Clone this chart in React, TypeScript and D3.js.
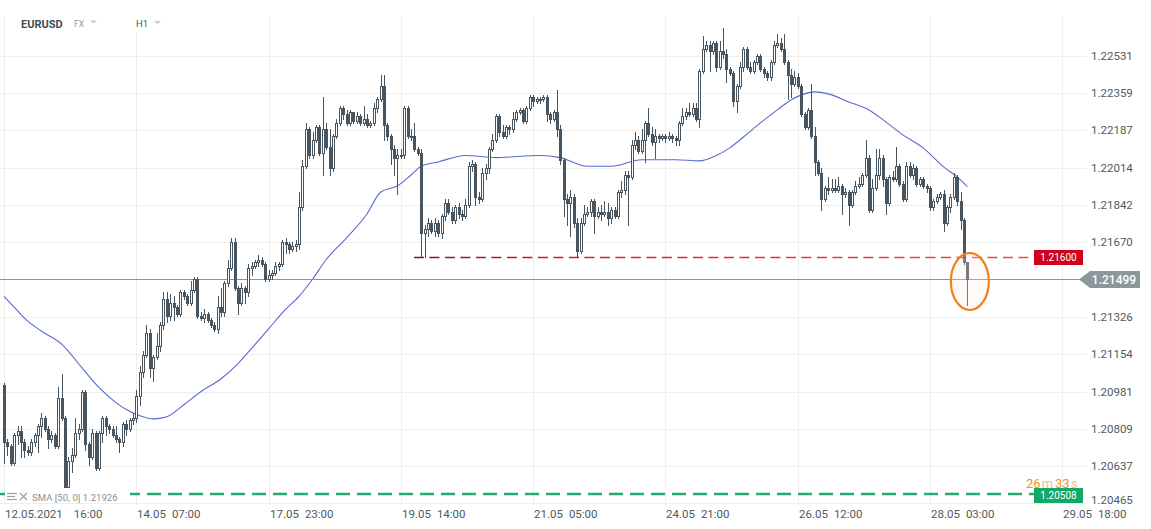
import React from 'react';
import * as d3 from 'd3';

const W = 1151;
const H = 529;

const opens = [1.2101,1.2075,1.2073,1.2065,1.2078,1.2080,1.2075,1.2071,1.2070,1.2075,
1.2078,1.2082,1.2086,1.2081,1.2076,1.2078,1.2073,1.2095,1.2086,1.2054,
1.2066,1.2069,1.2079,1.2081,1.2098,1.2074,1.2068,1.2079,1.2063,1.2079,
1.2086,1.2082,1.2081,1.2078,1.2076,1.2075,1.2083,1.2081,1.2085,1.2086,
1.2096,1.2107,1.2115,1.2125,1.2109,1.2114,1.2119,1.2129,1.2141,1.2133,
1.2139,1.2137,1.2134,1.2144,1.2142,1.2139,1.2145,1.2150,1.2133,1.2132,
1.2134,1.2131,1.2129,1.2127,1.2137,1.2135,1.2148,1.2155,1.2167,1.2146,
1.2139,1.2146,1.2144,1.2155,1.2156,1.2158,1.2159,1.2157,1.2150,1.2152,
1.2153,1.2156,1.2157,1.2167,1.2166,1.2164,1.2165,1.2166,1.2183,1.2202,
1.2219,1.2207,1.2214,1.2220,1.2208,1.2219,1.2211,1.2201,1.2216,1.2222,
1.2229,1.2226,1.2222,1.2227,1.2223,1.2225,1.2222,1.2224,1.2221,1.2222,
1.2229,1.2233,1.2239,1.2221,1.2216,1.2210,1.2206,1.2207,1.2207,1.2229,
1.2216,1.2216,1.2210,1.2208,1.2171,1.2173,1.2176,1.2172,1.2176,1.2171,
1.2179,1.2185,1.2181,1.2177,1.2183,1.2180,1.2179,1.2184,1.2202,1.2203,
1.2188,1.2187,1.2199,1.2201,1.2210,1.2214,1.2225,1.2218,1.2216,1.2220,
1.2219,1.2224,1.2227,1.2228,1.2223,1.2229,1.2234,1.2232,1.2233,1.2233,
1.2234,1.2226,1.2224,1.2227,1.2219,1.2205,1.2187,1.2185,1.2188,1.2176,
1.2163,1.2176,1.2180,1.2181,1.2186,1.2179,1.2181,1.2180,1.2181,1.2178,
1.2182,1.2179,1.2190,1.2191,1.2198,1.2197,1.2212,1.2214,1.2209,1.2214,
1.2222,1.2217,1.2213,1.2216,1.2215,1.2216,1.2215,1.2216,1.2215,1.2214,
1.2222,1.2225,1.2227,1.2226,1.2229,1.2224,1.2246,1.2256,1.2258,1.2255,
1.2259,1.2248,1.2255,1.2254,1.2247,1.2245,1.2232,1.2239,1.2248,1.2256,
1.2248,1.2246,1.2250,1.2253,1.2247,1.2245,1.2243,1.2250,1.2258,1.2259,
1.2256,1.2250,1.2244,1.2240,1.2243,1.2239,1.2226,1.2220,1.2228,1.2216,
1.2204,1.2199,1.2187,1.2192,1.2191,1.2192,1.2191,1.2193,1.2189,1.2190,
1.2184,1.2190,1.2193,1.2194,1.2198,1.2206,1.2182,1.2192,1.2198,1.2206,
1.2196,1.2185,1.2197,1.2196,1.2202,1.2194,1.2187,1.2202,1.2198,1.2201,
1.2194,1.2196,1.2193,1.2192,1.2183,1.2186,1.2188,1.2189,1.2176,1.2183,
1.2188,1.2197,1.2186,1.2177,1.2158];

const highs = [1.2102,1.2076,1.2074,1.2079,1.2082,1.2082,1.2076,1.2073,1.2076,1.2079,
1.2083,1.2088,1.2087,1.2082,1.2080,1.2079,1.2100,1.2106,1.2087,1.2068,
1.2072,1.2086,1.2083,1.2099,1.2099,1.2075,1.2081,1.2080,1.2080,1.2087,
1.2087,1.2083,1.2082,1.2082,1.2077,1.2084,1.2085,1.2086,1.2088,1.2099,
1.2110,1.2117,1.2129,1.2127,1.2115,1.2125,1.2130,1.2144,1.2144,1.2143,
1.2142,1.2138,1.2145,1.2145,1.2143,1.2149,1.2151,1.2151,1.2135,1.2136,
1.2135,1.2132,1.2130,1.2142,1.2146,1.2149,1.2159,1.2169,1.2169,1.2147,
1.2148,1.2147,1.2157,1.2158,1.2159,1.2161,1.2160,1.2158,1.2154,1.2154,
1.2158,1.2158,1.2168,1.2169,1.2167,1.2167,1.2168,1.2190,1.2205,1.2222,
1.2220,1.2218,1.2221,1.2221,1.2234,1.2222,1.2219,1.2217,1.2224,1.2230,
1.2230,1.2228,1.2228,1.2227,1.2227,1.2226,1.2230,1.2226,1.2223,1.2231,
1.2234,1.2244,1.2244,1.2222,1.2217,1.2212,1.2210,1.2210,1.2230,1.2230,
1.2219,1.2222,1.2211,1.2210,1.2175,1.2178,1.2177,1.2178,1.2177,1.2180,
1.2187,1.2187,1.2183,1.2184,1.2185,1.2182,1.2187,1.2204,1.2205,1.2204,
1.2190,1.2201,1.2203,1.2211,1.2217,1.2226,1.2226,1.2221,1.2221,1.2221,
1.2227,1.2228,1.2229,1.2229,1.2230,1.2235,1.2235,1.2234,1.2234,1.2235,
1.2235,1.2227,1.2228,1.2237,1.2221,1.2206,1.2189,1.2191,1.2189,1.2178,
1.2178,1.2184,1.2183,1.2187,1.2187,1.2183,1.2184,1.2186,1.2185,1.2183,
1.2183,1.2191,1.2195,1.2200,1.2200,1.2214,1.2218,1.2216,1.2219,1.2223,
1.2229,1.2220,1.2219,1.2217,1.2217,1.2217,1.2218,1.2217,1.2216,1.2223,
1.2229,1.2229,1.2231,1.2231,1.2231,1.2247,1.2262,1.2260,1.2260,1.2260,
1.2260,1.2260,1.2266,1.2256,1.2248,1.2246,1.2240,1.2250,1.2257,1.2257,
1.2250,1.2251,1.2254,1.2254,1.2248,1.2246,1.2251,1.2260,1.2263,1.2261,
1.2263,1.2251,1.2247,1.2246,1.2245,1.2240,1.2227,1.2229,1.2240,1.2220,
1.2205,1.2201,1.2193,1.2197,1.2196,1.2196,1.2197,1.2194,1.2192,1.2191,
1.2191,1.2195,1.2197,1.2199,1.2214,1.2207,1.2196,1.2210,1.2210,1.2207,
1.2197,1.2198,1.2200,1.2211,1.2203,1.2195,1.2204,1.2204,1.2203,1.2202,
1.2197,1.2197,1.2194,1.2193,1.2187,1.2189,1.2190,1.2191,1.2184,1.2189,
1.2199,1.2198,1.2190,1.2178,1.2158];

const lows = [1.2065,1.2069,1.2064,1.2064,1.2074,1.2068,1.2068,1.2069,1.2069,1.2073,
1.2070,1.2077,1.2080,1.2072,1.2075,1.2072,1.2072,1.2085,1.2051,1.2053,
1.2061,1.2068,1.2076,1.2080,1.2071,1.2064,1.2067,1.2062,1.2062,1.2075,
1.2078,1.2079,1.2077,1.2075,1.2070,1.2073,1.2078,1.2080,1.2083,1.2084,
1.2092,1.2105,1.2114,1.2105,1.2103,1.2113,1.2117,1.2127,1.2130,1.2131,
1.2131,1.2133,1.2133,1.2141,1.2138,1.2138,1.2144,1.2132,1.2131,1.2130,
1.2130,1.2128,1.2126,1.2125,1.2133,1.2133,1.2147,1.2154,1.2145,1.2134,
1.2138,1.2139,1.2142,1.2152,1.2155,1.2156,1.2156,1.2149,1.2149,1.2150,
1.2152,1.2154,1.2156,1.2162,1.2162,1.2163,1.2163,1.2164,1.2182,1.2201,
1.2206,1.2206,1.2213,1.2207,1.2198,1.2210,1.2198,1.2200,1.2215,1.2221,
1.2224,1.2221,1.2221,1.2222,1.2222,1.2221,1.2221,1.2220,1.2220,1.2221,
1.2227,1.2232,1.2214,1.2214,1.2203,1.2198,1.2189,1.2206,1.2206,1.2215,
1.2214,1.2209,1.2207,1.2160,1.2160,1.2170,1.2171,1.2170,1.2170,1.2169,
1.2177,1.2180,1.2176,1.2176,1.2178,1.2177,1.2178,1.2183,1.2200,1.2184,
1.2185,1.2186,1.2196,1.2199,1.2209,1.2213,1.2216,1.2215,1.2215,1.2217,
1.2218,1.2223,1.2226,1.2222,1.2222,1.2228,1.2230,1.2231,1.2231,1.2232,
1.2223,1.2222,1.2223,1.2216,1.2203,1.2179,1.2175,1.2170,1.2174,1.2160,
1.2162,1.2175,1.2179,1.2179,1.2171,1.2178,1.2177,1.2179,1.2175,1.2176,
1.2178,1.2178,1.2188,1.2189,1.2175,1.2196,1.2210,1.2208,1.2208,1.2204,
1.2216,1.2212,1.2206,1.2213,1.2214,1.2213,1.2214,1.2213,1.2212,1.2212,
1.2221,1.2224,1.2225,1.2225,1.2223,1.2220,1.2245,1.2255,1.2246,1.2254,
1.2246,1.2247,1.2252,1.2241,1.2244,1.2230,1.2227,1.2238,1.2246,1.2247,
1.2245,1.2245,1.2249,1.2246,1.2243,1.2242,1.2242,1.2249,1.2257,1.2255,
1.2249,1.2233,1.2234,1.2239,1.2238,1.2225,1.2219,1.2219,1.2215,1.2198,
1.2198,1.2182,1.2186,1.2189,1.2190,1.2190,1.2190,1.2180,1.2188,1.2175,
1.2183,1.2189,1.2192,1.2193,1.2197,1.2181,1.2181,1.2191,1.2196,1.2193,
1.2180,1.2184,1.2195,1.2195,1.2193,1.2186,1.2186,1.2197,1.2196,1.2193,
1.2193,1.2192,1.2190,1.2182,1.2182,1.2185,1.2187,1.2172,1.2175,1.2181,
1.2187,1.2184,1.2173,1.2157,1.2138];

const closes = [1.2075,1.2073,1.2065,1.2078,1.2080,1.2075,1.2071,1.2070,1.2075,1.2078,
1.2082,1.2086,1.2081,1.2076,1.2078,1.2073,1.2095,1.2086,1.2054,1.2066,
1.2069,1.2079,1.2081,1.2098,1.2074,1.2068,1.2079,1.2063,1.2079,1.2086,
1.2082,1.2081,1.2078,1.2076,1.2075,1.2083,1.2081,1.2085,1.2086,1.2096,
1.2107,1.2115,1.2125,1.2109,1.2114,1.2119,1.2129,1.2141,1.2133,1.2139,
1.2137,1.2134,1.2144,1.2142,1.2139,1.2145,1.2150,1.2133,1.2132,1.2134,
1.2131,1.2129,1.2127,1.2137,1.2135,1.2148,1.2155,1.2167,1.2146,1.2139,
1.2146,1.2144,1.2155,1.2156,1.2158,1.2159,1.2157,1.2150,1.2152,1.2153,
1.2156,1.2157,1.2167,1.2166,1.2164,1.2165,1.2166,1.2183,1.2202,1.2219,
1.2207,1.2214,1.2220,1.2208,1.2219,1.2211,1.2201,1.2216,1.2222,1.2229,
1.2226,1.2222,1.2227,1.2223,1.2225,1.2222,1.2224,1.2221,1.2222,1.2229,
1.2233,1.2239,1.2221,1.2216,1.2210,1.2206,1.2207,1.2207,1.2229,1.2216,
1.2216,1.2210,1.2208,1.2171,1.2173,1.2176,1.2172,1.2176,1.2171,1.2179,
1.2185,1.2181,1.2177,1.2183,1.2180,1.2179,1.2184,1.2202,1.2203,1.2188,
1.2187,1.2199,1.2201,1.2210,1.2214,1.2225,1.2218,1.2216,1.2220,1.2219,
1.2224,1.2227,1.2228,1.2223,1.2229,1.2234,1.2232,1.2233,1.2233,1.2234,
1.2226,1.2224,1.2227,1.2219,1.2205,1.2187,1.2185,1.2188,1.2176,1.2163,
1.2176,1.2180,1.2181,1.2186,1.2179,1.2181,1.2180,1.2181,1.2178,1.2182,
1.2179,1.2190,1.2191,1.2198,1.2197,1.2212,1.2214,1.2209,1.2214,1.2222,
1.2217,1.2213,1.2216,1.2215,1.2216,1.2215,1.2216,1.2215,1.2214,1.2222,
1.2225,1.2227,1.2226,1.2229,1.2224,1.2246,1.2256,1.2258,1.2255,1.2259,
1.2248,1.2255,1.2254,1.2247,1.2245,1.2232,1.2239,1.2248,1.2256,1.2248,
1.2246,1.2250,1.2253,1.2247,1.2245,1.2243,1.2250,1.2258,1.2259,1.2256,
1.2250,1.2244,1.2240,1.2243,1.2239,1.2226,1.2220,1.2228,1.2216,1.2204,
1.2199,1.2187,1.2192,1.2191,1.2192,1.2191,1.2193,1.2189,1.2190,1.2184,
1.2190,1.2193,1.2194,1.2198,1.2206,1.2182,1.2192,1.2198,1.2206,1.2196,
1.2185,1.2197,1.2196,1.2202,1.2194,1.2187,1.2202,1.2198,1.2201,1.2194,
1.2196,1.2193,1.2192,1.2183,1.2186,1.2188,1.2189,1.2176,1.2183,1.2188,
1.2197,1.2186,1.2177,1.2158,1.21499];

// SMA(50) at given candle indices
const smaIdx = [0,3,6,11,17,23,28,33,37,40,44,48,53,58,64,69,73,78,83,87,91,95,101,107,111,116,120,123,128,136,145,158,164,172,179,188,198,205,210,214,218,223,228,232,236,239,243,249,255,258,265,271,277,281,284];
const smaVal = [1.2142,1.2137,1.2132,1.2126,1.2120,1.2109,1.2100,1.2093,1.2089,1.2087,1.20855,1.20865,1.2092,1.2098,1.2104,1.2111,1.2118,1.2127,1.2136,1.2142,1.2150,1.2159,1.2169,1.2180,1.2190,1.2193,1.2198,1.2202,1.2204,1.2207,1.2206,1.2207,1.2206,1.2202,1.2202,1.2205,1.2205,1.22045,1.2207,1.22105,1.22155,1.2222,1.2228,1.22326,1.22354,1.22363,1.22354,1.22317,1.2228,1.22248,1.22165,1.22105,1.22017,1.21971,1.21926];

const xTickIdx = [0, 39, 78, 117, 156, 195, 234, 273, 312];
const xTickDates = ['12.05.2021', '14.05', '17.05', '19.05', '21.05', '24.05', '26.05', '28.05', '29.05'];
const xTickTimes = ['16:00', '07:00', '23:00', '14:00', '05:00', '21:00', '12:00', '03:00', '18:00'];
const yTicks = [1.22531, 1.22359, 1.22187, 1.22014, 1.21842, 1.2167, 1.21326, 1.21154, 1.20981, 1.20809, 1.20637, 1.20465];

const lastPrice = 1.21499;
const supportLevel = 1.216;
const lowLevel = 1.20508;
const supportStartIdx = 121;
const timerText = ['26', 'm', '33', 's'];

export default function App() {
  const x = d3.scaleLinear().domain([0, 312]).range([4, 4 + 312 * 3.392]);
  const y = d3.scaleLinear().domain([1.20465, 1.22531]).range([503.4, 55.5]);
  const candleColor = '#46555f';
  const font = 'Roboto, "Noto Sans", sans-serif';

  const smaPts: [number, number][] = smaIdx.map((d, i) => [x(d), y(smaVal[i])]);
  const smaPath = d3.line().curve(d3.curveMonotoneX)(smaPts) || '';

  const yLast = Math.round(y(lastPrice)) + 0.5;
  const ySup = Math.round(y(supportLevel)) + 0.5;
  const yLow = Math.round(y(lowLevel));
  const lastIdx = closes.length - 1;
  const ellX = x(lastIdx) + 2.5;

  return (
    <svg width={W} height={H} style={{ position: 'fixed', left: 0, top: 0, display: 'block', background: '#fff' }} fontFamily={font}>
      <defs>
        <linearGradient id="supGrad" x1={x(supportStartIdx)} x2={1034} y1={0} y2={0} gradientUnits="userSpaceOnUse">
          <stop offset="0" stopColor="#9a1010" />
          <stop offset="0.3" stopColor="#d42424" />
          <stop offset="1" stopColor="#ea4e4e" />
        </linearGradient>
      </defs>
      <rect x={0} y={0} width={W} height={H} fill="#fff" />
      {/* vertical grid */}
      {xTickIdx.map((t) => {
        const gx = Math.round(x(t)) + 0.5;
        return <line key={'vg' + t} x1={gx} x2={gx} y1={16} y2={505} stroke="#eeeeee" strokeWidth={1} />;
      })}
      {/* horizontal grid */}
      {yTicks.map((t) => {
        const gy = Math.round(y(t)) + 0.5;
        return <line key={'hg' + t} x1={0} x2={1087} y1={gy} y2={gy} stroke="#eeeeee" strokeWidth={1} />;
      })}
      {/* header */}
      <rect x={128} y={12} width={40} height={21} fill="#fff" />
      <text x={21} y={28} fontSize={11} fontWeight="bold" fill="#3e4b53">EURUSD</text>
      <text x={74} y={27} fontSize={8.5} fill="#8d99a1">FX</text>
      <path d="M90 20.5 L97 20.5 L93.5 23.5 Z" fill="#c3c9cd" />
      <text x={136} y={27} fontSize={9.5} fill="#4b565d">H1</text>
      <path d="M154 21 L161 21 L157.5 24 Z" fill="#c3c9cd" />

      {/* low level green dashed */}
      <line x1={0} x2={1034} y1={yLow} y2={yLow} stroke="#1fae6c" strokeWidth={2.6} strokeDasharray="14 7" />

      {/* SMA */}
      <path d={smaPath} fill="none" stroke="#5a68cf" strokeWidth={1.1} />

      {/* current price line */}
      <line x1={0} x2={1080} y1={yLast} y2={yLast} stroke="#8a959a" strokeWidth={1} />

      {/* support dashed */}
      <line x1={x(supportStartIdx) - 0.5} x2={1034} y1={ySup} y2={ySup} stroke="url(#supGrad)" strokeWidth={1.5} strokeDasharray="10 5.5" />

      {/* candles */}
      {closes.map((c, i) => {
        const o = opens[i];
        const cx = Math.round(x(i));
        const yo = y(o);
        const yc = y(c);
        const top = Math.round(Math.min(yo, yc)) + 0.5;
        const bot = Math.round(Math.max(yo, yc)) + 0.5;
        const bull = c >= o;
        return (
          <g key={'c' + i}>
            <line x1={cx + 0.5} x2={cx + 0.5} y1={Math.round(y(highs[i]))} y2={Math.round(y(lows[i])) + 1} stroke={candleColor} strokeWidth={1} />
            <rect x={cx - 0.5} y={top} width={2} height={Math.max(bot - top, 1)} fill={bull ? '#ffffff' : candleColor} stroke={candleColor} strokeWidth={1} />
          </g>
        );
      })}

      {/* highlight ellipse */}
      <ellipse cx={ellX} cy={281.5} rx={19} ry={28.5} fill="rgba(255,236,222,0.25)" stroke="#f07f1c" strokeWidth={2.2} />

      {/* SMA legend */}
      <rect x={5} y={488} width={125} height={14} fill="#fff" />
      <g stroke="#9aa2a7" strokeWidth={1.2}>
        <line x1={7} x2={17} y1={493.5} y2={493.5} />
        <line x1={7} x2={15} y1={496.5} y2={496.5} />
        <line x1={7} x2={17} y1={499.5} y2={499.5} />
        <line x1={20} x2={27} y1={493} y2={500} />
        <line x1={27} x2={20} y1={493} y2={500} />
      </g>
      <text x={32} y={501} fontSize={9.6} fill="#8c9195">SMA [50, 0] 1.21926</text>

      {/* x axis labels */}
      {xTickIdx.map((t, k) => (
        <text key={'xl' + t} x={Math.round(x(t)) + 1} y={518} fontSize={11.5} fill="#4f5a61">
          {xTickDates[k]}
          <tspan dx={k === 0 ? 11 : 6}>{xTickTimes[k]}</tspan>
        </text>
      ))}

      {/* y axis labels */}
      {yTicks.map((t) => (
        <text key={'yl' + t} x={1091} y={Math.min(y(t) + 4, 504)} fontSize={11.5} fill="#4f5a61">{t.toFixed(5)}</text>
      ))}

      {/* support tag */}
      <rect x={1034} y={ySup - 7.5} width={49} height={15} fill="#d0021b" />
      <text x={1058.5} y={ySup + 3.5} fontSize={10} fill="#fff" textAnchor="middle">{supportLevel.toFixed(5)}</text>

      {/* current price tag */}
      <path d={`M1079 ${yLast} L1090 ${yLast - 8.5} L1140 ${yLast - 8.5} L1140 ${yLast + 8.5} L1090 ${yLast + 8.5} Z`} fill="#8c979c" />
      <text x={1114} y={yLast + 4.5} fontSize={12} fontWeight={500} fill="#fff" textAnchor="middle">{lastPrice.toFixed(5)}</text>

      {/* low tag */}
      <rect x={1034} y={yLow - 6} width={49} height={15} fill="#12a865" />
      <text x={1058.5} y={yLow + 5} fontSize={10} fill="#fff" textAnchor="middle">{lowLevel.toFixed(5)}</text>

      {/* timer */}
      <text x={1026} y={487.5} fontSize={13}>
        <tspan fill="#f5921e">{timerText[0]}</tspan>
        <tspan fill="#f8be7c" dx={1}>{timerText[1]}</tspan>
        <tspan fill="#f5921e" dx={2}>{timerText[2]}</tspan>
        <tspan fill="#f8be7c" dx={1}>{timerText[3]}</tspan>
      </text>
    </svg>
  );
}
